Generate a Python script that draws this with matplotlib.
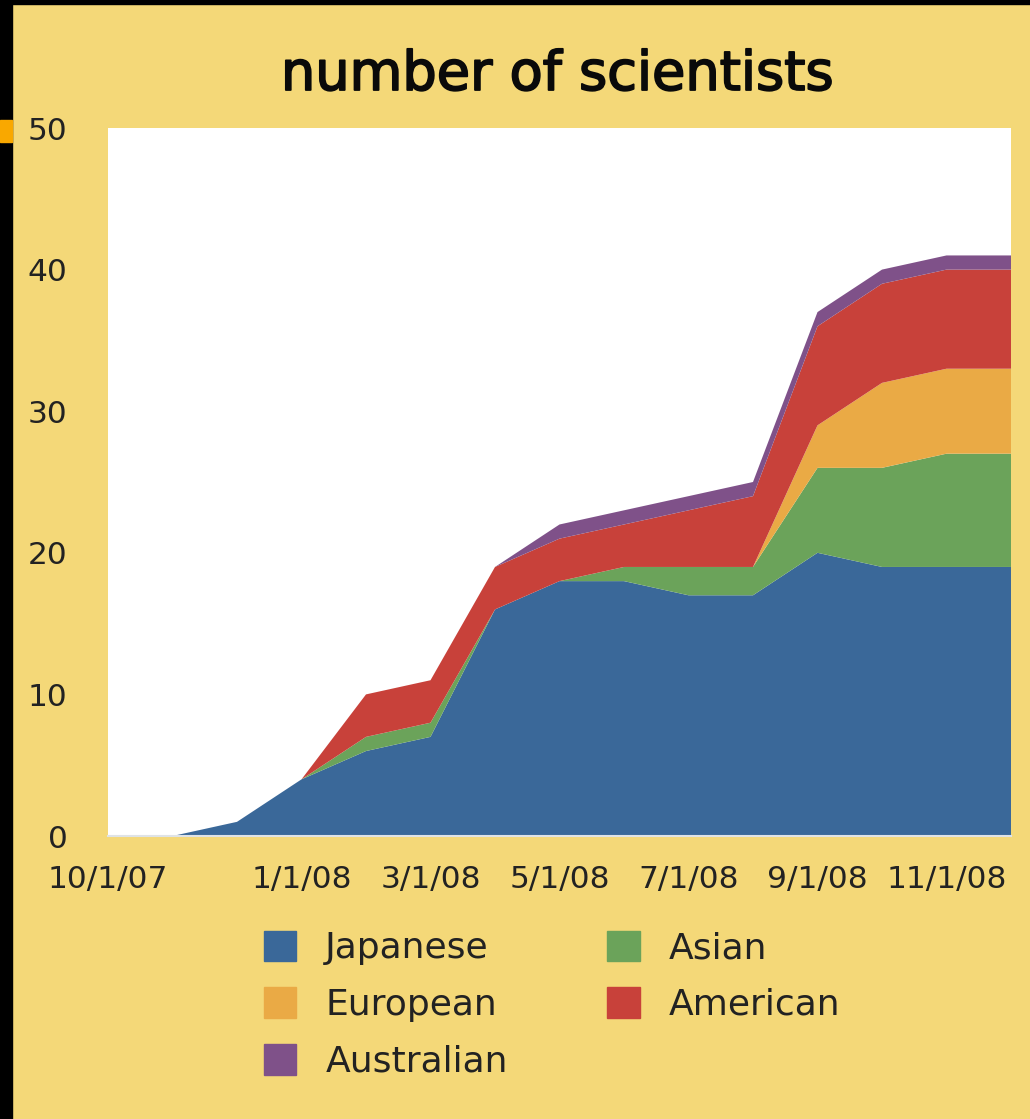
import matplotlib
matplotlib.use("Agg")
import matplotlib.pyplot as plt
import matplotlib.patheffects as pe
from matplotlib.patches import Patch, Rectangle

# Monthly headcount, Oct 2007 - Dec 2008
months = ["10/1/07", "11/1/07", "12/1/07", "1/1/08", "2/1/08", "3/1/08", "4/1/08",
          "5/1/08", "6/1/08", "7/1/08", "8/1/08", "9/1/08", "10/1/08", "11/1/08", "12/1/08"]
japanese   = [0, 0, 1, 4, 6, 7, 16, 18, 18, 17, 17, 20, 19, 19, 19]
asian      = [0, 0, 0, 0, 1, 1, 0, 0, 1, 2, 2, 6, 7, 8, 8]
european   = [0, 0, 0, 0, 0, 0, 0, 0, 0, 0, 0, 3, 6, 6, 6]
american   = [0, 0, 0, 0, 3, 3, 3, 3, 3, 4, 5, 7, 7, 7, 7]
australian = [0, 0, 0, 0, 0, 0, 0, 1, 1, 1, 1, 1, 1, 1, 1]

tick_labels = ["10/1/07", "1/1/08", "3/1/08", "5/1/08", "7/1/08", "9/1/08", "11/1/08"]

c_jp, c_as, c_eu, c_am, c_au = "#3a6899", "#6ba35a", "#eaaa45", "#c8413a", "#7f5189"
bg = "#f4d878"

fig = plt.figure(figsize=(10.30, 11.19), dpi=100)
fig.patch.set_facecolor(bg)

# dark frame strips and small marker on the left edge
fig.patches.append(Rectangle((0, 0), 12 / 1030, 1, transform=fig.transFigure,
                             color="black", zorder=0))
fig.patches.append(Rectangle((0, 1 - 4 / 1119), 1, 4 / 1119, transform=fig.transFigure,
                             color="black", zorder=0))
fig.patches.append(Rectangle((0, 1 - 142 / 1119), 12 / 1030, 22 / 1119,
                             transform=fig.transFigure, color="#f9a800", zorder=1))

ax = fig.add_axes([108 / 1030, 1 - 836 / 1119, (1011 - 108) / 1030, (836 - 128) / 1119])
ax.set_facecolor("white")

x = list(range(len(months)))
ax.stackplot(x, japanese, asian, european, american, australian,
             colors=[c_jp, c_as, c_eu, c_am, c_au], linewidth=0)

ax.set_xlim(0, len(months) - 1)
ax.set_ylim(0, 50)
ax.set_yticks(range(0, 51, 10))
ax.set_xticks([months.index(t) for t in tick_labels])
ax.set_xticklabels(tick_labels)

for s in ["top", "left", "right"]:
    ax.spines[s].set_visible(False)
ax.spines["bottom"].set_color("#dfe3e6")
ax.spines["bottom"].set_linewidth(1.5)

ax.tick_params(axis="both", length=0, labelsize=22.5, labelcolor="#222222")
ax.tick_params(axis="y", pad=29)
ax.tick_params(axis="x", pad=21)

title = fig.text(557 / 1030, 1 - 75 / 1119, "number of scientists", ha="center",
                 va="center", fontsize=39, color="#0a0a0a")
title.set_path_effects([pe.withStroke(linewidth=1.3, foreground="#0a0a0a")])

handles = [Patch(color=c_jp, label="Japanese"),
           Patch(color=c_eu, label="European"),
           Patch(color=c_au, label="Australian"),
           Patch(color=c_as, label="Asian"),
           Patch(color=c_am, label="American")]
fig.legend(handles=handles, ncol=2, loc="upper left",
           bbox_to_anchor=(231 / 1030, 1 - 898 / 1119),
           frameon=False, fontsize=26, labelcolor="#222222",
           handlelength=0.91, handleheight=0.91, handletextpad=0.8,
           columnspacing=2.75, labelspacing=0.62)

fig.savefig("out.png", dpi=100, facecolor=fig.get_facecolor())
